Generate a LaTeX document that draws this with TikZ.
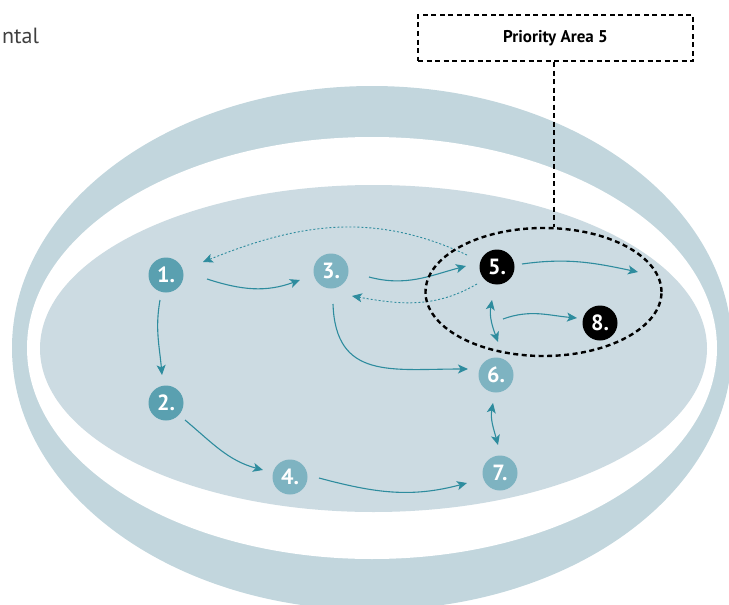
\documentclass[tikz,border=0pt]{standalone}
\usepackage{fontspec}
\setmainfont{PT Sans}
\usetikzlibrary{calc,positioning,arrows.meta,shapes.geometric}
\definecolor{ringblue}{HTML}{C2D6DD}
\definecolor{innerblue}{HTML}{CCDBE2}
\definecolor{darkteal}{HTML}{5AA0B0}
\definecolor{lightteal}{HTML}{7EB3C1}
\definecolor{arrowteal}{HTML}{2E8C9E}

\begin{document}
\begin{tikzpicture}[x=1pt,y=1pt,
	stage/.style={circle,minimum size=35,inner sep=0,text=white,
		font=\fontsize{22}{22}\selectfont\bfseries},
	flow/.style={-{Stealth[length=10pt,width=9pt,inset=2.5pt]},arrowteal,line width=1.1},
	backflow/.style={flow,line width=0.9,dash pattern=on 2pt off 2pt},
	twoway/.style={flow,{Stealth[length=10pt,width=9pt,inset=2.5pt]}-{Stealth[length=10pt,width=9pt,inset=2.5pt]}},
	areadash/.style={black,line width=2.4,dash pattern=on 5pt off 3.5pt}]
	\useasboundingbox (0,0) rectangle (729,-605);
	\coordinate (MID) at (372,-348);
	\fill[ringblue] (MID) ellipse [x radius=360, y radius=262];
	\fill[white] (MID) ellipse [x radius=345, y radius=211];
	\fill[innerblue] ($ (MID) + (1.5,-0.5) $) ellipse [x radius=333.5, y radius=163.5];
	\node[anchor=base west,inner sep=0,font=\fontsize{22}{22}\selectfont,text=black!75] (envtext) at (2,-43) {ntal};
	\node[stage,fill=darkteal] (n1) at (166,-275) {1.};
	\node[stage,fill=darkteal] (n2) at (166,-403) {2.};
	\node[stage,fill=lightteal] (n3) at (331,-271) {3.};
	\node[stage,fill=lightteal] (n4) at (290,-477) {4.};
	\node[stage,fill=black] (n5) at (497,-267) {5.};
	\node[stage,fill=lightteal] (n6) at (496,-375) {6.};
	\node[stage,fill=lightteal] (n7) at (500,-473) {7.};
	\node[stage,fill=black] (n8) at (600,-323) {8.};
	\coordinate (p5) at (638,-272);
	\draw[flow] ($ (n1) + (41,-4) $) to[out=-18,in=200] ($ (n3) + (-31,-9) $);
	\draw[flow] ($ (n3) + (38,-6) $) to[out=-15,in=195] ($ (n5) + (-31,1) $);
	\draw[flow] ($ (n5) + (25,3) $) to[out=8,in=168] (p5);
	\draw[twoway] ($ (n5) + (-5,-33) $) to[out=-100,in=110] ($ (n6) + (2,33) $);
	\draw[flow] ($ (n5) + (6,-52) $) to[out=20,in=175] ($ (n8) + (-23,5) $);
	\draw[backflow] ($ (n5) + (-30,12) $) to[out=155,in=22] ($ (n1) + (37,13) $);
	\draw[backflow] ($ (n5) + (-20,-17) $) to[out=210,in=-10] ($ (n3) + (21,-25) $);
	\draw[flow] ($ (n1) + (-6,-25) $) to[out=-100,in=95] ($ (n2) + (-4,28) $);
	\draw[flow] ($ (n3) + (2,-33) $) to[out=-88,in=180,looseness=1.3] ($ (n6) + (-28,6) $);
	\draw[flow] ($ (n2) + (19,-17) $) to[out=-40,in=165] ($ (n4) + (-27,7) $);
	\draw[flow] ($ (n4) + (29,-1) $) to[out=-15,in=195] ($ (n7) + (-33,-10) $);
	\draw[twoway] ($ (n6) + (-3,-28) $) to[out=-100,in=105] ($ (n7) + (-2,28) $);
	\node[draw,ellipse,areadash,minimum width=236,minimum height=128] (area) at (543.5,-292) {};
	\node[draw,areadash,minimum width=275,minimum height=46,
		font=\fontsize{17}{17}\selectfont\bfseries] (prio) at (555.5,-38) {Priority Area 5};
	\draw[areadash] ($ (prio.south) + (-1.5,0) $) to ($ (area.north) + (10.5,0) $);
\end{tikzpicture}
\end{document}
